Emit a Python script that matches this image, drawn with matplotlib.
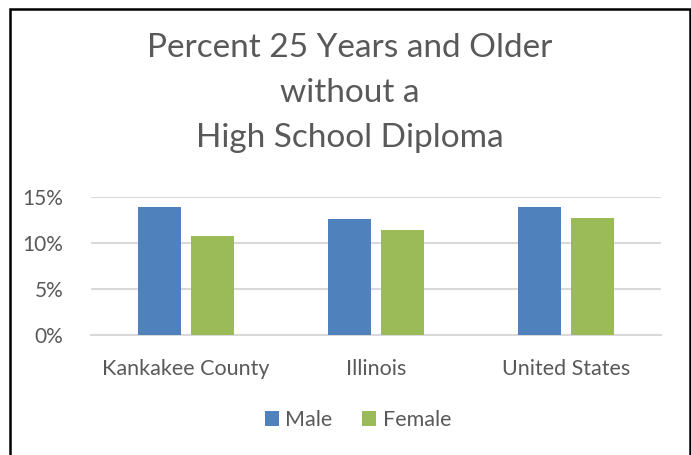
import matplotlib
matplotlib.use("Agg")
import matplotlib.pyplot as plt
from matplotlib.patches import Rectangle
from matplotlib.ticker import FuncFormatter
import numpy as np

categories = ["Kankakee County", "Illinois", "United States"]
male = [13.9, 12.6, 14.0]
female = [10.8, 11.4, 12.7]
yticks = [0, 5, 10, 15]
title = "Percent 25 Years and Older\nwithout a\nHigh School Diploma"

plt.rcParams['font.family'] = ['Lato', 'DejaVu Sans']
W, H = 691, 455
fig = plt.figure(figsize=(W / 100, H / 100), dpi=100)
fig.patch.set_facecolor("white")

# outer border
fig.add_artist(Rectangle((10 / W, -0.05), 680 / W, (H - 9) / H + 0.05,
                         transform=fig.transFigure, fill=False,
                         edgecolor="black", linewidth=1.8))

left, right = 91 / W, 661 / W
bottom, top = 1 - 335.3 / H, 1 - 197.3 / H
ax = fig.add_axes([left, bottom, right - left, top - bottom])

x = np.arange(len(categories))
bw = 0.226
off = 0.14
blue = "#4F81BD"
green = "#9BBB59"
ax.bar(x - off, male, bw, color=blue, label="Male", zorder=3)
ax.bar(x + off, female, bw, color=green, label="Female", zorder=3)

ax.set_xlim(-0.5, 2.5)
ax.set_ylim(0, 15)
ax.set_yticks(yticks)
ax.yaxis.set_major_formatter(FuncFormatter(lambda v, p: f"{int(v)}%"))
ax.grid(axis="y", color="#D9D9D9", linewidth=1.5, zorder=0)
for s in ["top", "right", "left"]:
    ax.spines[s].set_visible(False)
ax.spines["bottom"].set_color("#D9D9D9")
ax.spines["bottom"].set_linewidth(1.5)
ax.set_xticks(x)
ax.set_xticklabels(categories)
ax.tick_params(axis="both", length=0, labelsize=15.5, labelcolor="#595959")
ax.tick_params(axis="x", pad=17)
ax.tick_params(axis="y", pad=20, labelsize=15)

fig.text(350 / W, 1 - 93 / H, title, ha="center", va="center",
         fontsize=24, color="#595959", linespacing=1.62)

leg = fig.legend(loc="center", bbox_to_anchor=(358 / W, 1 - 420 / H),
                 ncol=2, frameon=False, fontsize=15.5, handlelength=0.65,
                 handleheight=0.65, handletextpad=0.3, columnspacing=1.4)
for t in leg.get_texts():
    t.set_color("#595959")

fig.savefig("out.png", dpi=100)
